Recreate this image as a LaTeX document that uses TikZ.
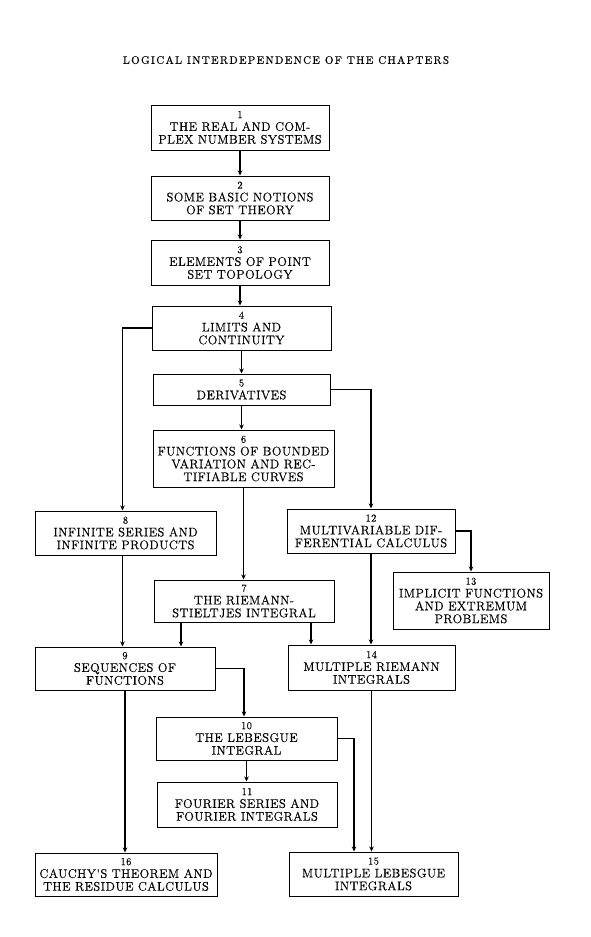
\documentclass[tikz,border=0pt]{standalone}
\usepackage{fontspec}
\newfontfamily\chapfont{lmroman12-regular.otf}[LetterSpace=4,FakeBold=0.4]
\newfontfamily\titlefont{lmroman10-regular.otf}[LetterSpace=12,FakeBold=0.4]
\usetikzlibrary{positioning,calc,arrows.meta}
\newcommand\chapnum[1]{{\fontsize{10.5}{10.5}\selectfont #1}}
\tikzset{CHAPTER/.style={rectangle,draw,line width=1pt,align=center,inner sep=1pt,font=\chapfont\fontsize{12.5}{12.8}\selectfont}}
\tikzset{TITLE/.style={inner sep=0pt,font=\titlefont\fontsize{11}{12}\selectfont}}
\tikzset{ARROW/.style={line width=1.5pt, -{Stealth[length=5pt,width=4.5pt]}}}

\begin{document}
\begin{tikzpicture}[x=1pt,y=-1pt]

\useasboundingbox (0,0) rectangle (590,937);

\node[TITLE] (n_title) at (286,60) {LOGICAL INTERDEPENDENCE OF THE CHAPTERS};

\node[CHAPTER, minimum width=178pt, minimum height=45pt] (n_realnum) at (240,127.5) {\chapnum{1}\\THE REAL AND COM-\\PLEX NUMBER SYSTEMS};
\node[CHAPTER, minimum width=178pt, minimum height=44pt] (n_settheory) at (240,198) {\chapnum{2}\\SOME BASIC NOTIONS\\OF SET THEORY};
\node[CHAPTER, minimum width=178pt, minimum height=45pt] (n_topology) at (240,262.5) {\chapnum{3}\\ELEMENTS OF POINT\\SET TOPOLOGY};
\node[CHAPTER, minimum width=179pt, minimum height=44pt] (n_limits) at (241.5,328) {\chapnum{4}\\LIMITS AND\\CONTINUITY};
\node[CHAPTER, minimum width=177pt, minimum height=31pt] (n_deriv) at (241.5,389.5) {\chapnum{5}\\DERIVATIVES};
\node[CHAPTER, minimum width=181pt, minimum height=57pt] (n_bv) at (243.5,458.5) {\chapnum{6}\\FUNCTIONS OF BOUNDED\\VARIATION AND REC-\\TIFIABLE CURVES};

\node[CHAPTER, minimum width=181pt, minimum height=44pt] (n_series) at (125.5,533) {\chapnum{8}\\INFINITE SERIES AND\\INFINITE PRODUCTS};
\node[CHAPTER, minimum width=168pt, minimum height=44pt] (n_multidiff) at (371,531) {\chapnum{12}\\MULTIVARIABLE DIF-\\FERENTIAL CALCULUS};
\node[CHAPTER, minimum width=156pt, minimum height=57pt] (n_implicit) at (471,600.5) {\chapnum{13}\\IMPLICIT FUNCTIONS\\AND EXTREMUM\\PROBLEMS};
\node[CHAPTER, minimum width=180pt, minimum height=42pt] (n_rs) at (244,601) {\chapnum{7}\\THE RIEMANN-\\STIELTJES INTEGRAL};

\node[CHAPTER, minimum width=180pt, minimum height=43pt] (n_seq) at (125,668.5) {\chapnum{9}\\SEQUENCES OF\\FUNCTIONS};
\node[CHAPTER, minimum width=167pt, minimum height=45pt] (n_multriem) at (371.5,667.5) {\chapnum{14}\\MULTIPLE RIEMANN\\INTEGRALS};
\node[CHAPTER, minimum width=181pt, minimum height=43pt] (n_leb) at (246.5,738.5) {\chapnum{10}\\THE LEBESGUE\\INTEGRAL};
\node[CHAPTER, minimum width=180pt, minimum height=45pt] (n_fourier) at (247,804.5) {\chapnum{11}\\FOURIER SERIES AND\\FOURIER INTEGRALS};
\node[CHAPTER, minimum width=182pt, minimum height=43pt] (n_cauchy) at (126,874.5) {\chapnum{16}\\CAUCHY'S THEOREM AND\\THE RESIDUE CALCULUS};
\node[CHAPTER, minimum width=169pt, minimum height=44pt] (n_multleb) at (373.5,874) {\chapnum{15}\\MULTIPLE LEBESGUE\\INTEGRALS};

% main column
\draw[ARROW] (n_realnum.south) -- (n_settheory.north);
\draw[ARROW] (n_settheory.south) -- (n_topology.north);
\draw[ARROW] (n_topology.south) -- (n_topology.south|-n_limits.north);
\draw[ARROW] (n_limits.south) -- (n_deriv.north);
\draw[ARROW] (n_deriv.south) -- (n_deriv.south|-n_bv.north);
\draw[ARROW] (n_bv.south) -- (n_bv.south|-n_rs.north);

% side branches
\draw[ARROW] (n_limits.west) -| ([xshift=-3pt]n_series.north);
\draw[ARROW] (n_deriv.east) -| (n_multidiff.north);
\draw[ARROW] (n_multidiff.east) -| (n_implicit.north);

\coordinate (c_rs_left) at ($(n_rs.south)+(-63,0)$);
\coordinate (c_rs_right) at ($(n_rs.south)+(67,0)$);
\draw[ARROW] ([xshift=-3pt]n_series.south) -- ([xshift=-3pt]n_series.south|-n_seq.north);
\draw[ARROW] (c_rs_left) -- (c_rs_left|-n_seq.north);
\draw[ARROW] (c_rs_right) -- (c_rs_right|-n_multriem.north);
\draw[ARROW] (n_multidiff.south) -- (n_multidiff.south|-n_multriem.north);

\draw[ARROW] (n_seq.east) -| ([xshift=-2.5pt]n_leb.north);
\draw[ARROW] (n_leb.south) -- (n_leb.south|-n_fourier.north);
\draw[ARROW] (n_seq.south) -- (n_seq.south|-n_cauchy.north);
\draw[ARROW] (n_leb.east) -| ([xshift=-19.5pt]n_multleb.north);
\draw[ARROW] (n_multriem.south) -- (n_multriem.south|-n_multleb.north);

\end{tikzpicture}
\end{document}
